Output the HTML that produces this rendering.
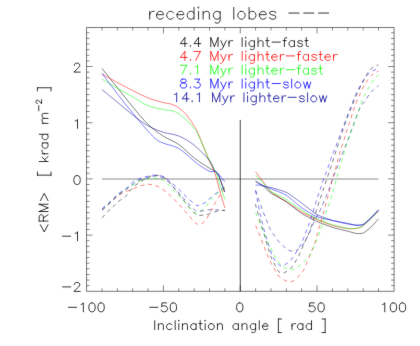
<!DOCTYPE html>
<html><head><meta charset="utf-8"><title>receding lobes</title>
<style>html,body{margin:0;padding:0;background:#fff;font-family:"Liberation Sans",sans-serif}svg{display:block}</style>
</head><body>
<svg width="420" height="346" viewBox="0 0 420 346">
<defs><filter id="b" x="0" y="0" width="420" height="346" filterUnits="userSpaceOnUse" color-interpolation-filters="sRGB"><feConvolveMatrix order="3" kernelMatrix="0.0049 0.0602 0.0049 0.0602 0.7396 0.0602 0.0049 0.0602 0.0049" divisor="1" edgeMode="duplicate" preserveAlpha="false"/></filter></defs><g filter="url(#b)">
<rect width="420" height="346" fill="#fff"/>
<path d="M86.55 27.5H394.1V291.3H86.55Z" stroke="#000" stroke-width="0.54" fill="none" />
<path d="M101.97 291.3v-3M101.97 27.5v3M117.33 291.3v-3M117.33 27.5v3M132.69 291.3v-3M132.69 27.5v3M148.06 291.3v-3M148.06 27.5v3M163.43 291.3v-6M163.43 27.5v6M178.79 291.3v-3M178.79 27.5v3M194.16 291.3v-3M194.16 27.5v3M209.52 291.3v-3M209.52 27.5v3M224.88 291.3v-3M224.88 27.5v3M240.25 291.3v-6M240.25 27.5v6M255.62 291.3v-3M255.62 27.5v3M270.98 291.3v-3M270.98 27.5v3M286.35 291.3v-3M286.35 27.5v3M301.71 291.3v-3M301.71 27.5v3M317.07 291.3v-6M317.07 27.5v6M332.44 291.3v-3M332.44 27.5v3M347.81 291.3v-3M347.81 27.5v3M363.17 291.3v-3M363.17 27.5v3M378.53 291.3v-3M378.53 27.5v3M86.55 285.68h3M394.1 285.68h-3M86.55 280.06h3M394.1 280.06h-3M86.55 274.44h3M394.1 274.44h-3M86.55 268.82h3M394.1 268.82h-3M86.55 263.2h3M394.1 263.2h-3M86.55 257.58h3M394.1 257.58h-3M86.55 251.96h3M394.1 251.96h-3M86.55 246.34h3M394.1 246.34h-3M86.55 240.72h3M394.1 240.72h-3M86.55 235.1h6M394.1 235.1h-6M86.55 229.48h3M394.1 229.48h-3M86.55 223.86h3M394.1 223.86h-3M86.55 218.24h3M394.1 218.24h-3M86.55 212.62h3M394.1 212.62h-3M86.55 207h3M394.1 207h-3M86.55 201.38h3M394.1 201.38h-3M86.55 195.76h3M394.1 195.76h-3M86.55 190.14h3M394.1 190.14h-3M86.55 184.52h3M394.1 184.52h-3M86.55 178.9h6M394.1 178.9h-6M86.55 173.28h3M394.1 173.28h-3M86.55 167.66h3M394.1 167.66h-3M86.55 162.04h3M394.1 162.04h-3M86.55 156.42h3M394.1 156.42h-3M86.55 150.8h3M394.1 150.8h-3M86.55 145.18h3M394.1 145.18h-3M86.55 139.56h3M394.1 139.56h-3M86.55 133.94h3M394.1 133.94h-3M86.55 128.32h3M394.1 128.32h-3M86.55 122.7h6M394.1 122.7h-6M86.55 117.08h3M394.1 117.08h-3M86.55 111.46h3M394.1 111.46h-3M86.55 105.84h3M394.1 105.84h-3M86.55 100.22h3M394.1 100.22h-3M86.55 94.6h3M394.1 94.6h-3M86.55 88.98h3M394.1 88.98h-3M86.55 83.36h3M394.1 83.36h-3M86.55 77.74h3M394.1 77.74h-3M86.55 72.12h3M394.1 72.12h-3M86.55 66.5h6M394.1 66.5h-6M86.55 60.88h3M394.1 60.88h-3M86.55 55.26h3M394.1 55.26h-3M86.55 49.64h3M394.1 49.64h-3M86.55 44.02h3M394.1 44.02h-3M86.55 38.4h3M394.1 38.4h-3M86.55 32.78h3M394.1 32.78h-3" stroke="#000" stroke-width="0.48" fill="none" />
<path d="M240.25 119.9V291.3" stroke="#000" stroke-width="0.72" fill="none" />
<path d="M101.97 179H378.53" stroke="#000" stroke-width="0.46" fill="none" />
<path d="M149.7 11.36L149.7 19.15M149.7 14.7L150.27 13.03L151.4 11.91L152.54 11.36L154.24 11.36M156.52 14.7L163.33 14.7L163.33 13.58L162.77 12.47L162.2 11.91L161.06 11.36L159.36 11.36L158.22 11.91L157.09 13.03L156.52 14.7L156.52 15.81L157.09 17.48L158.22 18.59L159.36 19.15L161.06 19.15L162.2 18.59L163.33 17.48M173.56 13.03L172.42 11.91L171.29 11.36L169.58 11.36L168.45 11.91L167.31 13.03L166.74 14.7L166.74 15.81L167.31 17.48L168.45 18.59L169.58 19.15L171.29 19.15L172.42 18.59L173.56 17.48M176.97 14.7L183.79 14.7L183.79 13.58L183.22 12.47L182.65 11.91L181.51 11.36L179.81 11.36L178.67 11.91L177.54 13.03L176.97 14.7L176.97 15.81L177.54 17.48L178.67 18.59L179.81 19.15L181.51 19.15L182.65 18.59L183.79 17.48M194.01 7.46L194.01 19.15M194.01 13.03L192.88 11.91L191.74 11.36L190.04 11.36L188.9 11.91L187.76 13.03L187.2 14.7L187.2 15.81L187.76 17.48L188.9 18.59L190.04 19.15L191.74 19.15L192.88 18.59L194.01 17.48M197.99 7.46L198.56 8.01L199.13 7.46L198.56 6.9L197.99 7.46M198.56 11.36L198.56 19.15M203.1 11.36L203.1 19.15M203.1 13.58L204.81 11.91L205.94 11.36L207.65 11.36L208.78 11.91L209.35 13.58L209.35 19.15M220.15 11.36L220.15 20.26L219.58 21.93L219.01 22.49L217.88 23.05L216.17 23.05L215.03 22.49M220.15 13.03L219.01 11.91L217.88 11.36L216.17 11.36L215.03 11.91L213.9 13.03L213.33 14.7L213.33 15.81L213.9 17.48L215.03 18.59L216.17 19.15L217.88 19.15L219.01 18.59L220.15 17.48M233.78 7.46L233.78 19.15M240.6 11.36L239.46 11.91L238.33 13.03L237.76 14.7L237.76 15.81L238.33 17.48L239.46 18.59L240.6 19.15L242.3 19.15L243.44 18.59L244.58 17.48L245.14 15.81L245.14 14.7L244.58 13.03L243.44 11.91L242.3 11.36L240.6 11.36M249.12 7.46L249.12 19.15M249.12 13.03L250.26 11.91L251.39 11.36L253.1 11.36L254.24 11.91L255.37 13.03L255.94 14.7L255.94 15.81L255.37 17.48L254.24 18.59L253.1 19.15L251.39 19.15L250.26 18.59L249.12 17.48M259.35 14.7L266.17 14.7L266.17 13.58L265.6 12.47L265.03 11.91L263.89 11.36L262.19 11.36L261.05 11.91L259.92 13.03L259.35 14.7L259.35 15.81L259.92 17.48L261.05 18.59L262.19 19.15L263.89 19.15L265.03 18.59L266.17 17.48M275.82 13.03L275.26 11.91L273.55 11.36L271.85 11.36L270.14 11.91L269.57 13.03L270.14 14.14L271.28 14.7L274.12 15.25L275.26 15.81L275.82 16.92L275.82 17.48L275.26 18.59L273.55 19.15L271.85 19.15L270.14 18.59L269.57 17.48M288.89 13.05L299.12 13.05M303.66 13.05L313.89 13.05M318.43 13.05L328.66 13.05M184.88 37.68L180.34 43.63L187.15 43.63M184.88 37.68L184.88 46.6M190.33 45.75L189.88 46.18L190.33 46.6L190.79 46.18L190.33 45.75M198.52 37.68L193.97 43.63L200.79 43.63M198.52 37.68L198.52 46.6M210.79 37.68L210.79 46.6M210.79 37.68L214.42 46.6M218.06 37.68L214.42 46.6M218.06 37.68L218.06 46.6M220.79 40.65L223.51 46.6M226.24 40.65L223.51 46.6L222.6 48.3L221.69 49.15L220.79 49.57L220.33 49.57M228.97 40.65L228.97 46.6M228.97 43.2L229.42 41.93L230.33 41.08L231.24 40.65L232.6 40.65M242.15 37.68L242.15 46.6M245.33 37.68L245.78 38.1L246.24 37.68L245.78 37.25L245.33 37.68M245.78 40.65L245.78 46.6M254.42 40.65L254.42 47.45L253.96 48.72L253.51 49.15L252.6 49.57L251.24 49.57L250.33 49.15M254.42 41.93L253.51 41.08L252.6 40.65L251.24 40.65L250.33 41.08L249.42 41.93L248.96 43.2L248.96 44.05L249.42 45.33L250.33 46.18L251.24 46.6L252.6 46.6L253.51 46.18L254.42 45.33M258.06 37.68L258.06 46.6M258.06 42.35L259.42 41.08L260.33 40.65L261.69 40.65L262.6 41.08L263.05 42.35L263.05 46.6M267.14 37.68L267.14 44.9L267.6 46.18L268.51 46.6L269.42 46.6M265.78 40.65L268.96 40.65M272.14 42.1L280.33 42.1M286.69 37.68L285.78 37.68L284.87 38.1L284.42 39.38L284.42 46.6M283.05 40.65L286.23 40.65M294.42 40.65L294.42 46.6M294.42 41.93L293.51 41.08L292.6 40.65L291.23 40.65L290.32 41.08L289.42 41.93L288.96 43.2L288.96 44.05L289.42 45.33L290.32 46.18L291.23 46.6L292.6 46.6L293.51 46.18L294.42 45.33M302.6 41.93L302.14 41.08L300.78 40.65L299.41 40.65L298.05 41.08L297.6 41.93L298.05 42.78L298.96 43.2L301.23 43.63L302.14 44.05L302.6 44.9L302.6 45.33L302.14 46.18L300.78 46.6L299.41 46.6L298.05 46.18L297.6 45.33M306.23 37.68L306.23 44.9L306.69 46.18L307.6 46.6L308.5 46.6M304.87 40.65L308.05 40.65M68.37 307.3L76.56 307.3M81.1 304.58L82.01 304.15L83.37 302.88L83.37 311.8M91.55 302.88L90.19 303.3L89.28 304.58L88.83 306.7L88.83 307.98L89.28 310.1L90.19 311.38L91.55 311.8L92.46 311.8L93.83 311.38L94.74 310.1L95.19 307.98L95.19 306.7L94.74 304.58L93.83 303.3L92.46 302.88L91.55 302.88M100.64 302.88L99.28 303.3L98.37 304.58L97.92 306.7L97.92 307.98L98.37 310.1L99.28 311.38L100.64 311.8L101.55 311.8L102.92 311.38L103.83 310.1L104.28 307.98L104.28 306.7L103.83 304.58L102.92 303.3L101.55 302.88L100.64 302.88M149.74 307.3L157.93 307.3M166.56 302.88L162.02 302.88L161.56 306.7L162.02 306.28L163.38 305.85L164.74 305.85L166.11 306.28L167.02 307.13L167.47 308.4L167.47 309.25L167.02 310.53L166.11 311.38L164.74 311.8L163.38 311.8L162.02 311.38L161.56 310.95L161.11 310.1M172.92 302.88L171.56 303.3L170.65 304.58L170.2 306.7L170.2 307.98L170.65 310.1L171.56 311.38L172.92 311.8L173.83 311.8L175.2 311.38L176.11 310.1L176.56 307.98L176.56 306.7L176.11 304.58L175.2 303.3L173.83 302.88L172.92 302.88M239.3 302.88L237.93 303.3L237.02 304.58L236.57 306.7L236.57 307.98L237.02 310.1L237.93 311.38L239.3 311.8L240.2 311.8L241.57 311.38L242.48 310.1L242.93 307.98L242.93 306.7L242.48 304.58L241.57 303.3L240.2 302.88L239.3 302.88M314.3 302.88L309.76 302.88L309.3 306.7L309.76 306.28L311.12 305.85L312.48 305.85L313.85 306.28L314.76 307.13L315.21 308.4L315.21 309.25L314.76 310.53L313.85 311.38L312.48 311.8L311.12 311.8L309.76 311.38L309.3 310.95L308.85 310.1M320.67 302.88L319.3 303.3L318.39 304.58L317.94 306.7L317.94 307.98L318.39 310.1L319.3 311.38L320.67 311.8L321.57 311.8L322.94 311.38L323.85 310.1L324.3 307.98L324.3 306.7L323.85 304.58L322.94 303.3L321.57 302.88L320.67 302.88M382.49 304.58L383.4 304.15L384.76 302.88L384.76 311.8M392.95 302.88L391.58 303.3L390.67 304.58L390.22 306.7L390.22 307.98L390.67 310.1L391.58 311.38L392.95 311.8L393.85 311.8L395.22 311.38L396.13 310.1L396.58 307.98L396.58 306.7L396.13 304.58L395.22 303.3L393.85 302.88L392.95 302.88M402.04 302.88L400.67 303.3L399.76 304.58L399.31 306.7L399.31 307.98L399.76 310.1L400.67 311.38L402.04 311.8L402.94 311.8L404.31 311.38L405.22 310.1L405.67 307.98L405.67 306.7L405.22 304.58L404.31 303.3L402.94 302.88L402.04 302.88M74.33 65.3L74.33 64.88L74.78 64.03L75.24 63.6L76.15 63.18L77.96 63.18L78.87 63.6L79.33 64.03L79.78 64.88L79.78 65.73L79.33 66.58L78.42 67.85L73.87 72.1L80.24 72.1M75.24 121.08L76.15 120.65L77.51 119.38L77.51 128.3M76.6 175.58L75.24 176L74.33 177.28L73.87 179.4L73.87 180.68L74.33 182.8L75.24 184.08L76.6 184.5L77.51 184.5L78.87 184.08L79.78 182.8L80.24 180.68L80.24 179.4L79.78 177.28L78.87 176L77.51 175.58L76.6 175.58M62.51 236.2L70.69 236.2M75.24 233.48L76.15 233.05L77.51 231.78L77.51 240.7M62.51 286.9L70.69 286.9M74.33 284.6L74.33 284.18L74.78 283.33L75.24 282.9L76.15 282.48L77.96 282.48L78.87 282.9L79.33 283.33L79.78 284.18L79.78 285.03L79.33 285.88L78.42 287.15L73.87 291.4L80.24 291.4M154.73 320.68L154.73 329.6M158.37 323.65L158.37 329.6M158.37 325.35L159.73 324.08L160.64 323.65L162 323.65L162.91 324.08L163.37 325.35L163.37 329.6M172 324.93L171.09 324.08L170.18 323.65L168.82 323.65L167.91 324.08L167 324.93L166.55 326.2L166.55 327.05L167 328.33L167.91 329.18L168.82 329.6L170.18 329.6L171.09 329.18L172 328.33M175.18 320.68L175.18 329.6M178.37 320.68L178.82 321.1L179.27 320.68L178.82 320.25L178.37 320.68M178.82 323.65L178.82 329.6M182.46 323.65L182.46 329.6M182.46 325.35L183.82 324.08L184.73 323.65L186.09 323.65L187 324.08L187.46 325.35L187.46 329.6M196.09 323.65L196.09 329.6M196.09 324.93L195.18 324.08L194.27 323.65L192.91 323.65L192 324.08L191.09 324.93L190.64 326.2L190.64 327.05L191.09 328.33L192 329.18L192.91 329.6L194.27 329.6L195.18 329.18L196.09 328.33M200.18 320.68L200.18 327.9L200.64 329.18L201.54 329.6L202.45 329.6M198.82 323.65L202 323.65M204.73 320.68L205.18 321.1L205.64 320.68L205.18 320.25L204.73 320.68M205.18 323.65L205.18 329.6M210.63 323.65L209.73 324.08L208.82 324.93L208.36 326.2L208.36 327.05L208.82 328.33L209.73 329.18L210.63 329.6L212 329.6L212.91 329.18L213.82 328.33L214.27 327.05L214.27 326.2L213.82 324.93L212.91 324.08L212 323.65L210.63 323.65M217.45 323.65L217.45 329.6M217.45 325.35L218.82 324.08L219.72 323.65L221.09 323.65L222 324.08L222.45 325.35L222.45 329.6M238.36 323.65L238.36 329.6M238.36 324.93L237.45 324.08L236.54 323.65L235.18 323.65L234.27 324.08L233.36 324.93L232.91 326.2L232.91 327.05L233.36 328.33L234.27 329.18L235.18 329.6L236.54 329.6L237.45 329.18L238.36 328.33M242 323.65L242 329.6M242 325.35L243.36 324.08L244.27 323.65L245.63 323.65L246.54 324.08L246.99 325.35L246.99 329.6M255.63 323.65L255.63 330.45L255.18 331.72L254.72 332.15L253.81 332.57L252.45 332.57L251.54 332.15M255.63 324.93L254.72 324.08L253.81 323.65L252.45 323.65L251.54 324.08L250.63 324.93L250.18 326.2L250.18 327.05L250.63 328.33L251.54 329.18L252.45 329.6L253.81 329.6L254.72 329.18L255.63 328.33M259.27 320.68L259.27 329.6M262.45 326.2L267.9 326.2L267.9 325.35L267.45 324.5L266.99 324.08L266.08 323.65L264.72 323.65L263.81 324.08L262.9 324.93L262.45 326.2L262.45 327.05L262.9 328.33L263.81 329.18L264.72 329.6L266.08 329.6L266.99 329.18L267.9 328.33M278.36 318.98L278.36 332.57M278.36 318.98L281.54 318.98M278.36 332.57L281.54 332.57M291.99 323.65L291.99 329.6M291.99 326.2L292.44 324.93L293.35 324.08L294.26 323.65L295.63 323.65M302.9 323.65L302.9 329.6M302.9 324.93L301.99 324.08L301.08 323.65L299.72 323.65L298.81 324.08L297.9 324.93L297.44 326.2L297.44 327.05L297.9 328.33L298.81 329.18L299.72 329.6L301.08 329.6L301.99 329.18L302.9 328.33M311.53 320.68L311.53 329.6M311.53 324.93L310.62 324.08L309.72 323.65L308.35 323.65L307.44 324.08L306.53 324.93L306.08 326.2L306.08 327.05L306.53 328.33L307.44 329.18L308.35 329.6L309.72 329.6L310.62 329.18L311.53 328.33M325.17 318.98L325.17 332.57M321.99 318.98L325.17 318.98M321.99 332.57L325.17 332.57M40.4 224.71L44.23 231.98L48.05 224.71M39.13 221.07L48.05 221.07M39.13 221.07L39.13 216.98L39.55 215.62L39.98 215.17L40.83 214.71L41.68 214.71L42.53 215.17L42.95 215.62L43.38 216.98L43.38 221.07M43.38 217.89L48.05 214.71M39.13 211.53L48.05 211.53M39.13 211.53L48.05 207.89M39.13 204.26L48.05 207.89M39.13 204.26L48.05 204.26M40.4 200.62L44.23 193.35L48.05 200.62M37.43 175.17L51.02 175.17M37.43 175.17L37.43 171.99M51.02 175.17L51.02 171.99M39.13 161.53L48.05 161.53M42.1 156.99L46.35 161.53M44.65 159.72L48.05 156.54M42.1 153.81L48.05 153.81M44.65 153.81L43.38 153.35L42.53 152.44L42.1 151.54L42.1 150.17M42.1 142.9L48.05 142.9M43.38 142.9L42.53 143.81L42.1 144.72L42.1 146.08L42.53 146.99L43.38 147.9L44.65 148.35L45.5 148.35L46.78 147.9L47.63 146.99L48.05 146.08L48.05 144.72L47.63 143.81L46.78 142.9M39.13 134.26L48.05 134.26M43.38 134.26L42.53 135.17L42.1 136.08L42.1 137.45L42.53 138.35L43.38 139.26L44.65 139.72L45.5 139.72L46.78 139.26L47.63 138.35L48.05 137.45L48.05 136.08L47.63 135.17L46.78 134.26M42.1 123.36L48.05 123.36M43.8 123.36L42.53 121.99L42.1 121.08L42.1 119.72L42.53 118.81L43.8 118.36L48.05 118.36M43.8 118.36L42.53 116.99L42.1 116.08L42.1 114.72L42.53 113.81L43.8 113.36L48.05 113.36M38.76 110.81L38.76 105.74M37.33 103.49L37.07 103.49L36.54 103.2L36.28 102.92L36.02 102.36L36.02 101.23L36.28 100.67L36.54 100.39L37.07 100.1L37.6 100.1L38.12 100.39L38.92 100.95L41.55 103.77L41.55 99.82M37.43 87.76L51.02 87.76M37.43 90.94L37.43 87.76M51.02 90.94L51.02 87.76" stroke="#000" stroke-width="0.8" fill="none" stroke-linecap="round" stroke-linejoin="round"/>
<path d="M184.88 51.48L180.34 57.43L187.15 57.43M184.88 51.48L184.88 60.4M190.33 59.55L189.88 59.98L190.33 60.4L190.79 59.98L190.33 59.55M200.33 51.48L195.79 60.4M193.97 51.48L200.33 51.48M210.79 51.48L210.79 60.4M210.79 51.48L214.42 60.4M218.06 51.48L214.42 60.4M218.06 51.48L218.06 60.4M220.79 54.45L223.51 60.4M226.24 54.45L223.51 60.4L222.6 62.1L221.69 62.95L220.79 63.37L220.33 63.37M228.97 54.45L228.97 60.4M228.97 57L229.42 55.73L230.33 54.88L231.24 54.45L232.6 54.45M242.15 51.48L242.15 60.4M245.33 51.48L245.78 51.9L246.24 51.48L245.78 51.05L245.33 51.48M245.78 54.45L245.78 60.4M254.42 54.45L254.42 61.25L253.96 62.52L253.51 62.95L252.6 63.37L251.24 63.37L250.33 62.95M254.42 55.73L253.51 54.88L252.6 54.45L251.24 54.45L250.33 54.88L249.42 55.73L248.96 57L248.96 57.85L249.42 59.13L250.33 59.98L251.24 60.4L252.6 60.4L253.51 59.98L254.42 59.13M258.06 51.48L258.06 60.4M258.06 56.15L259.42 54.88L260.33 54.45L261.69 54.45L262.6 54.88L263.05 56.15L263.05 60.4M267.14 51.48L267.14 58.7L267.6 59.98L268.51 60.4L269.42 60.4M265.78 54.45L268.96 54.45M271.69 57L277.14 57L277.14 56.15L276.69 55.3L276.24 54.88L275.33 54.45L273.96 54.45L273.05 54.88L272.14 55.73L271.69 57L271.69 57.85L272.14 59.13L273.05 59.98L273.96 60.4L275.33 60.4L276.24 59.98L277.14 59.13M280.33 54.45L280.33 60.4M280.33 57L280.78 55.73L281.69 54.88L282.6 54.45L283.96 54.45M286.23 55.9L294.42 55.9M300.78 51.48L299.87 51.48L298.96 51.9L298.51 53.18L298.51 60.4M297.14 54.45L300.32 54.45M308.5 54.45L308.5 60.4M308.5 55.73L307.6 54.88L306.69 54.45L305.32 54.45L304.41 54.88L303.5 55.73L303.05 57L303.05 57.85L303.5 59.13L304.41 59.98L305.32 60.4L306.69 60.4L307.6 59.98L308.5 59.13M316.69 55.73L316.23 54.88L314.87 54.45L313.5 54.45L312.14 54.88L311.69 55.73L312.14 56.58L313.05 57L315.32 57.43L316.23 57.85L316.69 58.7L316.69 59.13L316.23 59.98L314.87 60.4L313.5 60.4L312.14 59.98L311.69 59.13M320.32 51.48L320.32 58.7L320.78 59.98L321.69 60.4L322.59 60.4M318.96 54.45L322.14 54.45M324.87 57L330.32 57L330.32 56.15L329.87 55.3L329.41 54.88L328.5 54.45L327.14 54.45L326.23 54.88L325.32 55.73L324.87 57L324.87 57.85L325.32 59.13L326.23 59.98L327.14 60.4L328.5 60.4L329.41 59.98L330.32 59.13M333.5 54.45L333.5 60.4M333.5 57L333.96 55.73L334.87 54.88L335.77 54.45L337.14 54.45" stroke="#f00" stroke-width="0.8" fill="none" stroke-linecap="round" stroke-linejoin="round"/>
<path d="M186.7 65.28L182.15 74.2M180.34 65.28L186.7 65.28M190.33 73.35L189.88 73.78L190.33 74.2L190.79 73.78L190.33 73.35M195.33 66.98L196.24 66.55L197.61 65.28L197.61 74.2M210.79 65.28L210.79 74.2M210.79 65.28L214.42 74.2M218.06 65.28L214.42 74.2M218.06 65.28L218.06 74.2M220.79 68.25L223.51 74.2M226.24 68.25L223.51 74.2L222.6 75.9L221.69 76.75L220.79 77.17L220.33 77.17M228.97 68.25L228.97 74.2M228.97 70.8L229.42 69.53L230.33 68.68L231.24 68.25L232.6 68.25M242.15 65.28L242.15 74.2M245.33 65.28L245.78 65.7L246.24 65.28L245.78 64.85L245.33 65.28M245.78 68.25L245.78 74.2M254.42 68.25L254.42 75.05L253.96 76.32L253.51 76.75L252.6 77.17L251.24 77.17L250.33 76.75M254.42 69.53L253.51 68.68L252.6 68.25L251.24 68.25L250.33 68.68L249.42 69.53L248.96 70.8L248.96 71.65L249.42 72.93L250.33 73.78L251.24 74.2L252.6 74.2L253.51 73.78L254.42 72.93M258.06 65.28L258.06 74.2M258.06 69.95L259.42 68.68L260.33 68.25L261.69 68.25L262.6 68.68L263.05 69.95L263.05 74.2M267.14 65.28L267.14 72.5L267.6 73.78L268.51 74.2L269.42 74.2M265.78 68.25L268.96 68.25M271.69 70.8L277.14 70.8L277.14 69.95L276.69 69.1L276.24 68.68L275.33 68.25L273.96 68.25L273.05 68.68L272.14 69.53L271.69 70.8L271.69 71.65L272.14 72.93L273.05 73.78L273.96 74.2L275.33 74.2L276.24 73.78L277.14 72.93M280.33 68.25L280.33 74.2M280.33 70.8L280.78 69.53L281.69 68.68L282.6 68.25L283.96 68.25M286.23 69.7L294.42 69.7M300.78 65.28L299.87 65.28L298.96 65.7L298.51 66.98L298.51 74.2M297.14 68.25L300.32 68.25M308.5 68.25L308.5 74.2M308.5 69.53L307.6 68.68L306.69 68.25L305.32 68.25L304.41 68.68L303.5 69.53L303.05 70.8L303.05 71.65L303.5 72.93L304.41 73.78L305.32 74.2L306.69 74.2L307.6 73.78L308.5 72.93M316.69 69.53L316.23 68.68L314.87 68.25L313.5 68.25L312.14 68.68L311.69 69.53L312.14 70.38L313.05 70.8L315.32 71.23L316.23 71.65L316.69 72.5L316.69 72.93L316.23 73.78L314.87 74.2L313.5 74.2L312.14 73.78L311.69 72.93M320.32 65.28L320.32 72.5L320.78 73.78L321.69 74.2L322.59 74.2M318.96 68.25L322.14 68.25" stroke="#0f0" stroke-width="0.8" fill="none" stroke-linecap="round" stroke-linejoin="round"/>
<path d="M182.61 79.08L181.24 79.5L180.79 80.35L180.79 81.2L181.24 82.05L182.15 82.48L183.97 82.9L185.33 83.33L186.24 84.18L186.7 85.03L186.7 86.3L186.24 87.15L185.79 87.58L184.43 88L182.61 88L181.24 87.58L180.79 87.15L180.34 86.3L180.34 85.03L180.79 84.18L181.7 83.33L183.06 82.9L184.88 82.48L185.79 82.05L186.24 81.2L186.24 80.35L185.79 79.5L184.43 79.08L182.61 79.08M190.33 87.15L189.88 87.58L190.33 88L190.79 87.58L190.33 87.15M194.88 79.08L199.88 79.08L197.15 82.48L198.52 82.48L199.42 82.9L199.88 83.33L200.33 84.6L200.33 85.45L199.88 86.73L198.97 87.58L197.61 88L196.24 88L194.88 87.58L194.42 87.15L193.97 86.3M210.79 79.08L210.79 88M210.79 79.08L214.42 88M218.06 79.08L214.42 88M218.06 79.08L218.06 88M220.79 82.05L223.51 88M226.24 82.05L223.51 88L222.6 89.7L221.69 90.55L220.79 90.97L220.33 90.97M228.97 82.05L228.97 88M228.97 84.6L229.42 83.33L230.33 82.48L231.24 82.05L232.6 82.05M242.15 79.08L242.15 88M245.33 79.08L245.78 79.5L246.24 79.08L245.78 78.65L245.33 79.08M245.78 82.05L245.78 88M254.42 82.05L254.42 88.85L253.96 90.12L253.51 90.55L252.6 90.97L251.24 90.97L250.33 90.55M254.42 83.33L253.51 82.48L252.6 82.05L251.24 82.05L250.33 82.48L249.42 83.33L248.96 84.6L248.96 85.45L249.42 86.73L250.33 87.58L251.24 88L252.6 88L253.51 87.58L254.42 86.73M258.06 79.08L258.06 88M258.06 83.75L259.42 82.48L260.33 82.05L261.69 82.05L262.6 82.48L263.05 83.75L263.05 88M267.14 79.08L267.14 86.3L267.6 87.58L268.51 88L269.42 88M265.78 82.05L268.96 82.05M272.14 83.5L280.33 83.5M288.51 83.33L288.05 82.48L286.69 82.05L285.33 82.05L283.96 82.48L283.51 83.33L283.96 84.18L284.87 84.6L287.14 85.03L288.05 85.45L288.51 86.3L288.51 86.73L288.05 87.58L286.69 88L285.33 88L283.96 87.58L283.51 86.73M291.69 79.08L291.69 88M297.14 82.05L296.23 82.48L295.32 83.33L294.87 84.6L294.87 85.45L295.32 86.73L296.23 87.58L297.14 88L298.51 88L299.41 87.58L300.32 86.73L300.78 85.45L300.78 84.6L300.32 83.33L299.41 82.48L298.51 82.05L297.14 82.05M303.5 82.05L305.32 88M307.14 82.05L305.32 88M307.14 82.05L308.96 88M310.78 82.05L308.96 88" stroke="#00f" stroke-width="0.8" fill="none" stroke-linecap="round" stroke-linejoin="round"/>
<path d="M174.43 94.58L175.34 94.15L176.7 92.88L176.7 101.8M186.7 92.88L182.15 98.83L188.97 98.83M186.7 92.88L186.7 101.8M192.15 100.95L191.7 101.38L192.15 101.8L192.61 101.38L192.15 100.95M197.15 94.58L198.06 94.15L199.42 92.88L199.42 101.8M212.6 92.88L212.6 101.8M212.6 92.88L216.24 101.8M219.88 92.88L216.24 101.8M219.88 92.88L219.88 101.8M222.6 95.85L225.33 101.8M228.06 95.85L225.33 101.8L224.42 103.5L223.51 104.35L222.6 104.77L222.15 104.77M230.78 95.85L230.78 101.8M230.78 98.4L231.24 97.13L232.15 96.28L233.06 95.85L234.42 95.85M243.97 92.88L243.97 101.8M247.15 92.88L247.6 93.3L248.06 92.88L247.6 92.45L247.15 92.88M247.6 95.85L247.6 101.8M256.24 95.85L256.24 102.65L255.78 103.92L255.33 104.35L254.42 104.77L253.06 104.77L252.15 104.35M256.24 97.13L255.33 96.28L254.42 95.85L253.06 95.85L252.15 96.28L251.24 97.13L250.78 98.4L250.78 99.25L251.24 100.53L252.15 101.38L253.06 101.8L254.42 101.8L255.33 101.38L256.24 100.53M259.87 92.88L259.87 101.8M259.87 97.55L261.24 96.28L262.15 95.85L263.51 95.85L264.42 96.28L264.87 97.55L264.87 101.8M268.96 92.88L268.96 100.1L269.42 101.38L270.33 101.8L271.24 101.8M267.6 95.85L270.78 95.85M273.51 98.4L278.96 98.4L278.96 97.55L278.51 96.7L278.05 96.28L277.14 95.85L275.78 95.85L274.87 96.28L273.96 97.13L273.51 98.4L273.51 99.25L273.96 100.53L274.87 101.38L275.78 101.8L277.14 101.8L278.05 101.38L278.96 100.53M282.14 95.85L282.14 101.8M282.14 98.4L282.6 97.13L283.51 96.28L284.42 95.85L285.78 95.85M288.05 97.3L296.23 97.3M304.41 97.13L303.96 96.28L302.6 95.85L301.23 95.85L299.87 96.28L299.41 97.13L299.87 97.98L300.78 98.4L303.05 98.83L303.96 99.25L304.41 100.1L304.41 100.53L303.96 101.38L302.6 101.8L301.23 101.8L299.87 101.38L299.41 100.53M307.6 92.88L307.6 101.8M313.05 95.85L312.14 96.28L311.23 97.13L310.78 98.4L310.78 99.25L311.23 100.53L312.14 101.38L313.05 101.8L314.41 101.8L315.32 101.38L316.23 100.53L316.69 99.25L316.69 98.4L316.23 97.13L315.32 96.28L314.41 95.85L313.05 95.85M319.41 95.85L321.23 101.8M323.05 95.85L321.23 101.8M323.05 95.85L324.87 101.8M326.68 95.85L324.87 101.8" stroke="#000090" stroke-width="0.8" fill="none" stroke-linecap="round" stroke-linejoin="round"/>
<path d="M101.97 68.4C104.53 71.62 112.21 81.3 117.33 87.7C122.45 94.1 127.57 100.68 132.69 106.8C137.81 112.92 142.94 119.5 148.06 124.4C153.18 129.3 158.31 132.85 163.43 136.2C168.55 139.55 173.67 140.88 178.79 144.5C183.91 148.12 189.04 153.93 194.16 157.9C199.28 161.87 206.1 166.15 209.52 168.3C212.94 170.45 213.25 169.73 214.7 170.8C216.15 171.87 217.25 173.17 218.2 174.7C219.15 176.23 219.32 177.12 220.4 180C221.48 182.88 223.98 190 224.7 192" stroke="#000" stroke-width="0.5" fill="none" stroke-linejoin="round"/>
<path d="M101.97 74C104.53 75.4 112.21 79.63 117.33 82.4C122.45 85.17 127.57 88.02 132.69 90.6C137.81 93.18 142.94 95.9 148.06 97.9C153.18 99.9 159.64 101.58 163.43 102.6C167.22 103.62 168.61 103.33 170.8 104C173 104.67 174.68 105.5 176.6 106.6C178.52 107.7 180.38 108.87 182.3 110.6C184.22 112.33 186.17 114.5 188.1 117C190.03 119.5 192.17 122.72 193.9 125.6C195.63 128.48 195.9 128.32 198.5 134.3C201.1 140.28 206.95 155.42 209.52 161.5C212.09 167.58 212.67 167.72 213.9 170.8C215.13 173.88 215.97 176.82 216.9 180C217.83 183.18 218.17 185.23 219.5 189.9C220.83 194.57 224 204.98 224.9 208" stroke="#f00" stroke-width="0.5" fill="none" stroke-linejoin="round"/>
<path d="M101.97 79.2C104.53 80.7 112.21 85.25 117.33 88.2C122.45 91.15 127.57 93.98 132.69 96.9C137.81 99.82 142.94 103.58 148.06 105.7C153.18 107.82 159.64 108.78 163.43 109.6C167.22 110.42 168.61 110.15 170.8 110.6C173 111.05 174.68 111.33 176.6 112.3C178.52 113.27 180.38 114.85 182.3 116.4C184.22 117.95 186.17 119.67 188.1 121.6C190.03 123.53 192.25 125.88 193.9 128C195.55 130.12 195.4 128.88 198 134.3C200.6 139.72 206.65 154.42 209.52 160.5C212.39 166.58 213.69 167.55 215.2 170.8C216.71 174.05 217.67 177.17 218.6 180C219.53 182.83 219.73 184.55 220.8 187.8C221.87 191.05 224.3 197.55 225 199.5" stroke="#0f0" stroke-width="0.5" fill="none" stroke-linejoin="round"/>
<path d="M101.97 73.3C104.53 76.72 112.21 87.17 117.33 93.8C122.45 100.43 127.57 106.87 132.69 113.1C137.81 119.33 144.14 126.83 148.06 131.2C151.98 135.57 153.64 137.3 156.2 139.3C158.76 141.3 159.67 141.67 163.43 143.2C167.19 144.73 173.67 145.52 178.79 148.5C183.91 151.48 190.62 158.25 194.16 161.1C197.69 163.95 197.44 163.9 200 165.6C202.56 167.3 207.2 170.35 209.52 171.3C211.84 172.25 212.6 171.08 213.9 171.3C215.2 171.52 215.48 170.85 217.3 172.6C219.12 174.35 223.55 180.27 224.8 181.8" stroke="#00f" stroke-width="0.5" fill="none" stroke-linejoin="round"/>
<path d="M101.97 89.6C104.53 91.7 112.21 97.98 117.33 102.2C122.45 106.42 127.57 110.97 132.69 114.9C137.81 118.83 142.94 122.9 148.06 125.8C153.18 128.7 158.31 130.6 163.43 132.3C168.55 134 173.67 133.85 178.79 136C183.91 138.15 189.04 141.1 194.16 145.2C199.28 149.3 206.1 156.33 209.52 160.6C212.94 164.87 213.25 168.45 214.7 170.8C216.15 173.15 217.25 173.17 218.2 174.7C219.15 176.23 219.32 177.12 220.4 180C221.48 182.88 223.98 190 224.7 192" stroke="#000090" stroke-width="0.5" fill="none" stroke-linejoin="round"/>
<path d="M101.97 217.95C103.11 216.7 106.8 212.5 108.8 210.45C110.8 208.4 112.58 207.02 114 205.65C115.42 204.28 115.36 203.85 117.33 202.25C119.3 200.65 123.24 198.46 125.8 196.05C128.36 193.64 130.32 190.14 132.69 187.8C135.06 185.46 137.44 183.75 140 182C142.56 180.25 145.56 178.42 148.06 177.3C150.56 176.18 152.44 175.35 155 175.3C157.56 175.25 160.93 175.72 163.43 177C165.93 178.28 167.44 180.17 170 183C172.56 185.83 174.76 189.02 178.79 194C182.82 198.98 190.18 209.37 194.16 212.9C198.14 216.43 200.14 215.07 202.7 215.2C205.26 215.33 207 214.4 209.52 213.7C212.04 213 215.24 211.55 217.8 211C220.36 210.45 223.7 210.5 224.88 210.4" stroke="#000" stroke-width="0.5" fill="none" stroke-linejoin="round" stroke-dasharray="4 3.7"/>
<path d="M101.97 210.25C103.11 209.25 106.24 206.55 108.8 204.25C111.36 201.95 114.63 198.5 117.33 196.45C120.03 194.4 122.44 193.18 125 191.95C127.56 190.72 130.19 190.04 132.69 189.05C135.19 188.06 137.44 186.78 140 186C142.56 185.22 145.56 184.52 148.06 184.4C150.56 184.28 152.44 184.38 155 185.3C157.56 186.22 160.93 188.2 163.43 189.9C165.93 191.6 167.44 193.12 170 195.5C172.56 197.88 174.76 199.85 178.79 204.2C182.82 208.55 190.88 218.28 194.16 221.6C197.44 224.92 196.91 223.98 198.5 224.1C200.09 224.22 201.86 223.98 203.7 222.3C205.54 220.62 207.59 217.28 209.52 214C211.45 210.72 212.74 206.97 215.3 202.6C217.86 198.23 223.28 190.27 224.88 187.8" stroke="#f00" stroke-width="0.5" fill="none" stroke-linejoin="round" stroke-dasharray="4 3.7"/>
<path d="M101.97 209.45C103.11 208.45 106.24 205.82 108.8 203.45C111.36 201.08 114.36 197.67 117.33 195.25C120.3 192.83 124.04 190.67 126.6 188.95C129.16 187.23 130.46 186.27 132.69 184.95C134.92 183.62 137.44 182.04 140 181C142.56 179.96 145.56 179.15 148.06 178.7C150.56 178.25 152.44 178 155 178.3C157.56 178.6 160.93 179.13 163.43 180.5C165.93 181.87 167.44 183.95 170 186.5C172.56 189.05 174.76 191.53 178.79 195.8C182.82 200.07 190.96 209.27 194.16 212.1C197.36 214.93 196.68 213.12 198 212.8C199.32 212.48 200.48 211.65 202.1 210.2C203.72 208.75 206 206.13 207.7 204.1C209.4 202.07 209.44 200.82 212.3 198C215.16 195.18 222.78 189 224.88 187.2" stroke="#0f0" stroke-width="0.5" fill="none" stroke-linejoin="round" stroke-dasharray="4 3.7"/>
<path d="M101.97 208.65C103.11 207.7 106.71 204.77 108.8 202.95C110.89 201.13 113.08 199.17 114.5 197.75C115.92 196.33 115.31 196.07 117.33 194.45C119.35 192.83 124.04 190.08 126.6 188.05C129.16 186.03 130.46 183.89 132.69 182.3C134.92 180.71 137.44 179.53 140 178.5C142.56 177.47 145.46 176.67 148.06 176.1C150.66 175.53 153.04 175.02 155.6 175.1C158.16 175.18 161.03 175.53 163.43 176.6C165.83 177.67 167.44 179.38 170 181.5C172.56 183.62 176.12 186.8 178.79 189.3C181.46 191.8 183.44 194.08 186 196.5C188.56 198.92 192.23 202.28 194.16 203.8C196.09 205.32 195.93 205.72 197.6 205.6C199.27 205.48 202.1 204.37 204.2 203.1C206.3 201.83 206.75 200.77 210.2 198C213.65 195.23 222.43 188.42 224.88 186.5" stroke="#00f" stroke-width="0.5" fill="none" stroke-linejoin="round" stroke-dasharray="4 3.7"/>
<path d="M101.97 209.95C103.11 208.97 106.24 206.42 108.8 204.05C111.36 201.68 114.36 198.25 117.33 195.75C120.3 193.25 124.04 190.93 126.6 189.05C129.16 187.17 130.46 185.96 132.69 184.45C134.92 182.94 137.44 181.16 140 180C142.56 178.84 145.56 178.17 148.06 177.5C150.56 176.83 152.44 175.92 155 176C157.56 176.08 160.93 176.75 163.43 178C165.93 179.25 167.44 181 170 183.5C172.56 186 174.76 188.67 178.79 193C182.82 197.33 190.44 206.5 194.16 209.5C197.88 212.5 198.59 210.95 201.1 211C203.61 211.05 206.58 210 209.2 209.8C211.82 209.6 214.19 209.7 216.8 209.8C219.41 209.9 223.53 210.3 224.88 210.4" stroke="#000090" stroke-width="0.5" fill="none" stroke-linejoin="round" stroke-dasharray="4 3.7"/>
<path d="M255.62 171.7C256.51 172.9 262.96 181.67 264.5 183.7C266.04 185.73 268.8 190.19 270.98 192C273.17 193.81 283.28 199.8 286.35 201.8C289.42 203.8 298.64 210.22 301.71 212C304.78 213.78 314 218.26 317.07 219.6C320.14 220.94 329.37 224.49 332.44 225.4C335.51 226.31 345.45 228.39 347.81 228.7C350.17 229.01 354.46 228.79 356 228.5C357.54 228.21 360.92 227.55 363.17 225.8C365.42 224.05 376.99 212.48 378.53 211" stroke="#f00" stroke-width="0.5" fill="none" stroke-linejoin="round"/>
<path d="M255.62 175.1C256.51 176.04 262.96 182.87 264.5 184.5C266.04 186.13 268.8 189.89 270.98 191.4C273.17 192.91 283.28 197.71 286.35 199.6C289.42 201.49 298.64 208.37 301.71 210.3C304.78 212.23 314 217.46 317.07 218.9C320.14 220.34 329.37 223.76 332.44 224.7C335.51 225.64 345.45 227.94 347.81 228.3C350.17 228.66 354.46 228.55 356 228.3C357.54 228.05 360.92 227.53 363.17 225.8C365.42 224.07 376.99 212.48 378.53 211" stroke="#0f0" stroke-width="0.5" fill="none" stroke-linejoin="round"/>
<path d="M255.62 181.3C256.51 181.9 262.96 186.12 264.5 187.3C266.04 188.48 268.8 191.65 270.98 193.1C273.17 194.55 283.28 199.76 286.35 201.8C289.42 203.84 298.64 211.53 301.71 213.5C304.78 215.47 314 220.12 317.07 221.5C320.14 222.88 329.37 226.33 332.44 227.3C335.51 228.27 345.45 230.59 347.81 231.2C350.17 231.81 354.46 233.21 356 233.4C357.54 233.59 361.73 233.68 363.17 233.1C364.61 232.52 368.86 229.02 370.4 227.6C371.94 226.18 377.72 219.77 378.53 218.9" stroke="#000" stroke-width="0.5" fill="none" stroke-linejoin="round"/>
<path d="M255.62 181.3C256.51 181.79 262.96 185.57 264.5 186.2C266.04 186.83 268.8 186.98 270.98 187.6C273.17 188.22 283.28 190.85 286.35 192.4C289.42 193.95 298.64 200.88 301.71 203.1C304.78 205.32 314 212.88 317.07 214.6C320.14 216.32 329.37 219.42 332.44 220.3C335.51 221.18 345.45 222.92 347.81 223.4C350.17 223.88 354.46 225 356 225.1C357.54 225.2 361.73 225.09 363.17 224.4C364.61 223.71 368.86 219.66 370.4 218.2C371.94 216.74 377.72 210.64 378.53 209.8" stroke="#000090" stroke-width="0.5" fill="none" stroke-linejoin="round"/>
<path d="M255.62 185.2C256.21 185.2 259.96 184.84 261.5 185.2C263.04 185.56 268.5 187.79 270.98 188.8C273.47 189.81 283.28 193.4 286.35 195.3C289.42 197.2 298.64 205.66 301.71 207.8C304.78 209.94 314 215.42 317.07 216.7C320.14 217.98 329.37 219.87 332.44 220.6C335.51 221.33 345.45 223.53 347.81 224C350.17 224.47 354.46 225.24 356 225.3C357.54 225.36 361.73 225.29 363.17 224.6C364.61 223.91 368.86 219.84 370.4 218.4C371.94 216.96 377.72 211.02 378.53 210.2" stroke="#00f" stroke-width="0.5" fill="none" stroke-linejoin="round"/>
<path d="M255.6 190.5C255.9 192.25 256.75 197.6 257.4 201C258.05 204.4 258.88 208.1 259.5 210.9C260.12 213.7 260.52 215.35 261.1 217.8C261.68 220.25 262.37 223.07 263 225.6C263.63 228.13 264.23 230.6 264.9 233C265.57 235.4 266.23 237.53 267 240C267.77 242.47 268.62 245.22 269.5 247.8C270.38 250.38 271.2 253.15 272.3 255.5C273.4 257.85 274.58 260.15 276.1 261.9C277.62 263.65 279.38 265.92 281.4 266C283.42 266.08 286.2 263.95 288.2 262.4C290.2 260.85 291.85 258.72 293.4 256.7C294.95 254.68 296.15 252.55 297.5 250.3C298.85 248.05 300.33 245.58 301.5 243.2C302.67 240.82 303.57 238.35 304.5 236C305.43 233.65 306.2 231.48 307.1 229.1C308 226.72 308.98 224.35 309.9 221.7C310.82 219.05 311.82 215.7 312.6 213.2C313.38 210.7 313.88 209.02 314.6 206.7C315.32 204.38 316.12 201.77 316.9 199.3C317.68 196.83 318.52 194.22 319.3 191.9C320.08 189.58 320.75 187.85 321.6 185.4C322.45 182.95 323.48 179.78 324.4 177.2C325.32 174.62 326.22 172.32 327.1 169.9C327.98 167.48 328.87 165.1 329.7 162.7C330.53 160.3 331.18 157.95 332.1 155.5C333.02 153.05 334.22 150.45 335.2 148C336.18 145.55 337.1 143.23 338 140.8C338.9 138.37 339.73 135.75 340.6 133.4C341.47 131.05 342.3 129.02 343.2 126.7C344.1 124.38 345.1 121.9 346 119.5C346.9 117.1 347.68 114.63 348.6 112.3C349.52 109.97 350.52 107.95 351.5 105.5C352.48 103.05 353.45 100.13 354.5 97.6C355.55 95.07 356.6 92.72 357.8 90.3C359 87.88 360.45 85.27 361.7 83.1C362.95 80.93 363.92 79.07 365.3 77.3C366.68 75.53 368.47 73.72 370 72.5C371.53 71.28 373.08 70.58 374.5 70C375.92 69.42 377.83 69.17 378.5 69" stroke="#00f" stroke-width="0.5" fill="none" stroke-linejoin="round" stroke-dasharray="4 3.7"/>
<path d="M255.4 204C255.58 204.73 256.03 206.75 256.5 208.4C256.97 210.05 257.58 211.68 258.2 213.9C258.82 216.12 259.48 219.18 260.2 221.7C260.92 224.22 261.73 226.55 262.5 229C263.27 231.45 264.07 233.92 264.8 236.4C265.53 238.88 266.18 241.42 266.9 243.9C267.62 246.38 268.3 248.85 269.1 251.3C269.9 253.75 270.68 256.23 271.7 258.6C272.72 260.97 273.97 263.28 275.2 265.5C276.43 267.72 277.8 270.65 279.1 271.9C280.4 273.15 281.77 273.07 283 273C284.23 272.93 284.92 272.62 286.5 271.5C288.08 270.38 290.83 268.25 292.5 266.3C294.17 264.35 295.22 262.05 296.5 259.8C297.78 257.55 299.08 255.2 300.2 252.8C301.32 250.4 302.12 247.87 303.2 245.4C304.28 242.93 305.58 240.43 306.7 238C307.82 235.57 308.97 233.22 309.9 230.8C310.83 228.38 311.55 225.88 312.3 223.5C313.05 221.12 313.67 218.87 314.4 216.5C315.13 214.13 315.92 211.73 316.7 209.3C317.48 206.87 318.27 204.37 319.1 201.9C319.93 199.43 320.87 196.95 321.7 194.5C322.53 192.05 323.28 189.67 324.1 187.2C324.92 184.73 325.78 182.18 326.6 179.7C327.42 177.22 328.17 174.75 329 172.3C329.83 169.85 330.77 167.52 331.6 165C332.43 162.48 333.2 159.75 334 157.2C334.8 154.65 335.58 152.18 336.4 149.7C337.22 147.22 338.08 144.75 338.9 142.3C339.72 139.85 340.52 137.38 341.3 135C342.08 132.62 342.77 130.42 343.6 128C344.43 125.58 345.4 122.97 346.3 120.5C347.2 118.03 348.05 115.58 349 113.2C349.95 110.82 351 108.7 352 106.2C353 103.7 353.95 100.73 355 98.2C356.05 95.67 357.13 93.43 358.3 91C359.47 88.57 360.8 85.88 362 83.6C363.2 81.32 364.33 79.43 365.5 77.3C366.67 75.17 367.47 72.63 369 70.8C370.53 68.97 373.12 67.27 374.7 66.3C376.28 65.33 377.87 65.22 378.5 65" stroke="#000" stroke-width="0.5" fill="none" stroke-linejoin="round" stroke-dasharray="4 3.7"/>
<path d="M255.6 190.5C256.03 191.75 257.33 195.52 258.2 198C259.07 200.48 259.85 202.75 260.8 205.4C261.75 208.05 262.88 211.25 263.9 213.9C264.92 216.55 265.9 218.85 266.9 221.3C267.9 223.75 268.7 226.28 269.9 228.6C271.1 230.92 272.65 233.08 274.1 235.2C275.55 237.32 276.9 239.35 278.6 241.3C280.3 243.25 282.57 245.4 284.3 246.9C286.03 248.4 287.63 249.58 289 250.3C290.37 251.02 291.15 251.22 292.5 251.2C293.85 251.18 295.38 251.23 297.1 250.2C298.82 249.17 301.2 247.03 302.8 245C304.4 242.97 305.47 240.32 306.7 238C307.93 235.68 309.08 233.53 310.2 231.1C311.32 228.67 312.27 225.83 313.4 223.4C314.53 220.97 315.83 218.78 317 216.5C318.17 214.22 319.33 211.98 320.4 209.7C321.47 207.42 322.38 205.18 323.4 202.8C324.42 200.42 325.48 197.87 326.5 195.4C327.52 192.93 328.58 190.4 329.5 188C330.42 185.6 331.15 183.4 332 181C332.85 178.6 333.68 176.05 334.6 173.6C335.52 171.15 336.55 168.75 337.5 166.3C338.45 163.85 339.33 161.37 340.3 158.9C341.27 156.43 342.32 153.97 343.3 151.5C344.28 149.03 345.23 146.57 346.2 144.1C347.17 141.63 348.18 139.17 349.1 136.7C350.02 134.23 350.82 131.68 351.7 129.3C352.58 126.92 353.47 124.87 354.4 122.4C355.33 119.93 356.33 117.08 357.3 114.5C358.27 111.92 358.98 109.05 360.2 106.9C361.42 104.75 363.13 103.63 364.6 101.6C366.07 99.57 367.48 96.7 369 94.7C370.52 92.7 372.12 91.13 373.7 89.6C375.28 88.07 377.7 86.18 378.5 85.5" stroke="#000090" stroke-width="0.5" fill="none" stroke-linejoin="round" stroke-dasharray="4 3.7"/>
<path d="M255.7 225.5C255.77 225.73 255.53 225.5 256.1 226.9C256.67 228.3 258.1 231.43 259.1 233.9C260.1 236.37 261.13 239.23 262.1 241.7C263.07 244.17 263.95 246.38 264.9 248.7C265.85 251.02 266.82 253.3 267.8 255.6C268.78 257.9 269.63 260.15 270.8 262.5C271.97 264.85 273.48 267.42 274.8 269.7C276.12 271.98 276.97 274.38 278.7 276.2C280.43 278.02 283.48 279.73 285.2 280.6C286.92 281.47 287.7 281.33 289 281.4C290.3 281.47 291.4 281.87 293 281C294.6 280.13 296.87 277.93 298.6 276.2C300.33 274.47 302 272.97 303.4 270.6C304.8 268.23 305.8 264.83 307 262C308.2 259.17 309.63 255.87 310.6 253.6C311.57 251.33 312 250.42 312.8 248.4C313.6 246.38 314.67 243.85 315.4 241.5C316.13 239.15 316.53 236.8 317.2 234.3C317.87 231.8 318.65 229.05 319.4 226.5C320.15 223.95 320.98 221.43 321.7 219C322.42 216.57 323.02 214.38 323.7 211.9C324.38 209.42 325.1 206.63 325.8 204.1C326.5 201.57 327.22 199.17 327.9 196.7C328.58 194.23 329.28 191.83 329.9 189.3C330.52 186.77 330.92 184.03 331.6 181.5C332.28 178.97 333.25 176.57 334 174.1C334.75 171.63 335.42 169.17 336.1 166.7C336.78 164.23 337.42 161.83 338.1 159.3C338.78 156.77 339.45 154.03 340.2 151.5C340.95 148.97 341.82 146.57 342.6 144.1C343.38 141.63 344.15 139.17 344.9 136.7C345.65 134.23 346.32 131.68 347.1 129.3C347.88 126.92 348.77 124.87 349.6 122.4C350.43 119.93 351.27 117.07 352.1 114.5C352.93 111.93 353.72 109.47 354.6 107C355.48 104.53 356.38 102.12 357.4 99.7C358.42 97.28 359.62 94.78 360.7 92.5C361.78 90.22 362.6 88.28 363.9 86C365.2 83.72 366.93 80.85 368.5 78.8C370.07 76.75 371.63 74.95 373.3 73.7C374.97 72.45 377.63 71.7 378.5 71.3" stroke="#f00" stroke-width="0.5" fill="none" stroke-linejoin="round" stroke-dasharray="4 3.7"/>
<path d="M255.6 212.5C255.68 212.73 255.52 212.43 256.1 213.9C256.68 215.37 258.1 218.85 259.1 221.3C260.1 223.75 261.08 226.15 262.1 228.6C263.12 231.05 264.12 233.52 265.2 236C266.28 238.48 267.52 241.17 268.6 243.5C269.68 245.83 270.6 247.78 271.7 250C272.8 252.22 273.9 254.58 275.2 256.8C276.5 259.02 277.83 261.4 279.5 263.3C281.17 265.2 283.45 267.15 285.2 268.2C286.95 269.25 288.7 269.42 290 269.6C291.3 269.78 291.42 269.93 293 269.3C294.58 268.67 297.55 267.17 299.5 265.8C301.45 264.43 303.12 262.65 304.7 261.1C306.28 259.55 307.7 258.27 309 256.5C310.3 254.73 311.53 252.42 312.5 250.5C313.47 248.58 314.08 246.83 314.8 245C315.52 243.17 316.03 241.5 316.8 239.5C317.57 237.5 318.53 235.32 319.4 233C320.27 230.68 321.18 228.02 322 225.6C322.82 223.18 323.57 220.88 324.3 218.5C325.03 216.12 325.57 213.85 326.4 211.3C327.23 208.75 328.42 205.78 329.3 203.2C330.18 200.62 330.95 198.18 331.7 195.8C332.45 193.42 333.08 191.43 333.8 188.9C334.52 186.37 335.28 183.22 336 180.6C336.72 177.98 337.38 175.67 338.1 173.2C338.82 170.73 339.57 168.25 340.3 165.8C341.03 163.35 341.8 160.92 342.5 158.5C343.2 156.08 343.82 153.7 344.5 151.3C345.18 148.9 345.8 146.53 346.6 144.1C347.4 141.67 348.42 139.13 349.3 136.7C350.18 134.27 351.03 131.88 351.9 129.5C352.77 127.12 353.58 124.9 354.5 122.4C355.42 119.9 356.43 117.07 357.4 114.5C358.37 111.93 359.45 109.47 360.3 107C361.15 104.53 361.53 102.12 362.5 99.7C363.47 97.28 364.9 94.78 366.1 92.5C367.3 90.22 368.38 88.17 369.7 86C371.02 83.83 372.53 81.45 374 79.5C375.47 77.55 377.75 75.17 378.5 74.3" stroke="#0f0" stroke-width="0.5" fill="none" stroke-linejoin="round" stroke-dasharray="4 3.7"/>
</g>
</svg>
</body></html>
